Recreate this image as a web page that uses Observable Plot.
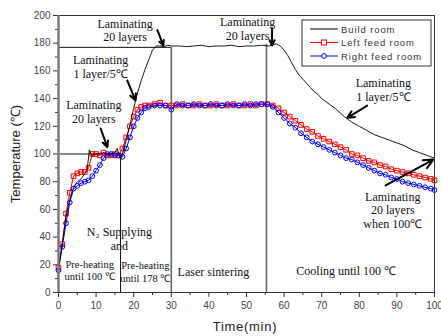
<!DOCTYPE html>
<html><head><meta charset="utf-8">
<script src="https://cdn.jsdelivr.net/npm/d3@7"></script>
<script src="https://cdn.jsdelivr.net/npm/@observablehq/plot@0.6"></script>
<style>body{margin:0;background:#fff}#chart{width:441px;height:336px}</style>
</head><body><div id="chart"></div>
<script>
// ---- data ----
const tBuild = [0,1,2,3,4,5,6,7,7.6,8.2,8.8,10,11,12,13,14,15,15.6,16.5,17,18,19,20,21,22,23,24,25,26,27,28,29,30,32,34,36,38,40,42,44,46,48,50,52,54,56,57,58,59,60,61,62,63,64,65,66,67,68,69,70,72,74,76,78,80,82,84,86,88,90,92,94,96,98,100];
const buildRoom = [18,35,55,67,76,80,82,86,88,103,99,100,100,101,100,100,101,104,96,100,110,121,133,144,153,161,168,175,178,178,177.5,178.5,178,178,177.5,178,178.5,177.5,178,178,178.5,177.5,178,178,178.5,178,179,179.5,178,175,171,166,161,157,154,151,148,145,143,140,136,132,127,123,120,117,114,112,110,108,106,103,101,99,97];
const tFeed = [0,1,2,3,4,5,6,7,8,9,10,11,12,13,14,15,16,17,18,19,20,21,22,23,24,25.5,27,28.5,30,31.5,33,34.5,36,37.5,39,40.5,42,43.5,45,46.5,48,49.5,51,52.5,54,55.5,57,58.5,60,61.5,63,64.5,66,67.5,69,70.5,72,73.5,75,76.5,78,79.5,81,82.5,84,85.5,87,88.5,90,91.5,93,94.5,96,97.5,99,100];
const leftFeed = [18,35,57,72,84,86,87,87,90,100,100,99,101,99,99,100,99,104,112,120,127,132,134,135,
  135,136,137,135,135,135,136,135,135,136,135,135,136,135,135,136,135,135,136,135,136,136,
  135,133,130,127,124,121,118,116,113,111,109,107,105,103,100,99,97,95,94,92,91,89,88,87,86,85,84,83,82,81];
const rightFeed = [16,33,50,65,75,77,79,80,81,84,88,92,97,100,100,99,99,98,104,112,120,126,130,133,
  134,135,135,135,132,136,135,135,136,135,135,136,135,135,136,135,135,136,135,136,136,136,
  134,130,126,122,119,115,112,109,107,105,103,101,99,97,96,94,92,90,88,86,85,83,82,80,79,78,77,76,75,74];
const xTicks = [0,10,20,30,40,50,60,70,80,90,100];
const xMinor = [5,15,25,35,45,55,65,75,85,95];
const yTicks = [0,20,40,60,80,100,120,140,160,180,200];
const yMinor = [10,30,50,70,90,110,130,150,170,190];
const seriesNames = ["Build room","Left feed room","Right feed room"];

// reference lines (data units)
const hRefs = [{y:100, x1:0, x2:16.5},{y:177, x1:0, x2:30}];
const vRefThin = [{x:16.5, y2:97}];
const vRefGrey = [{x:30, y2:177},{x:55.3, y2:179}];

// annotations (data units)
const notes = [
  {x:17.7, y:189.5, text:"Laminating\n20 layers"},
  {x:50.3, y:190.5, text:"Laminating\n20 layers"},
  {x:11.2, y:163, text:"Laminating\n1 layer/5℃"},
  {x:9.4, y:130.5, text:"Laminating\n20 layers"},
  {x:86.4, y:146.5, text:"Laminating\n1 layer/5℃"},
  {x:88.9, y:59.5, text:"Laminating\n20 layers\nwhen 100℃"},
  {x:16.2, y:39, text:"N₂ Supplying\nand"},
  {x:41.2, y:15.2, text:"Laser sintering"},
  {x:76.5, y:15.9, text:"Cooling until 100 ℃"}
];
const smallNotes = [
  {x:8.3, y:16.4, text:"Pre-heating\nuntil 100 ℃"},
  {x:23.1, y:15.2, text:"Pre-heating\nuntil 178 ℃"}
];
const arrows = [
  {x1:26.3, y1:189.5, x2:27.9, y2:178.3},
  {x1:56.8, y1:191, x2:56.8, y2:178.3},
  {x1:18.3, y1:153, x2:20.5, y2:138.6},
  {x1:11.2, y1:118.4, x2:13, y2:104.9},
  {x1:82.1, y1:135, x2:76.8, y2:126.1},
  {x1:87, y1:77.3, x2:99.7, y2:96}
];

const build = tBuild.map((t,i)=>({t, v:buildRoom[i]}));
const left = tFeed.map((t,i)=>({t, v:leftFeed[i]}));
const right = tFeed.map((t,i)=>({t, v:rightFeed[i]}));

const plot = Plot.plot({
  width:441, height:336,
  marginLeft:58, marginRight:7, marginTop:15, marginBottom:44,
  style:{fontFamily:"'Liberation Sans', Arial, sans-serif", fontSize:"10px", background:"#fff", color:"#333"},
  x:{domain:[0,100]},
  y:{domain:[0,200]},
  marks:[
    Plot.axisY({ticks:yTicks, tickSize:5, tickPadding:3, label:null, fontSize:10, fill:"#444", stroke:"#333"}),
    Plot.axisY({ticks:yMinor, tickSize:3, text:null, label:null, stroke:"#333"}),
    Plot.axisX({ticks:xTicks, tickSize:5, tickPadding:4, label:null, fontSize:10, fill:"#444", stroke:"#333"}),
    Plot.axisX({ticks:xMinor, tickSize:3, text:null, label:null, stroke:"#333"}),
    Plot.ruleY(hRefs, {y:"y", x1:"x1", x2:"x2", stroke:"#111", strokeWidth:1}),
    Plot.ruleX(vRefThin, {x:"x", y1:0, y2:"y2", stroke:"#111", strokeWidth:1}),
    Plot.ruleX(vRefGrey, {x:"x", y1:0, y2:"y2", stroke:"#666", strokeWidth:1.6}),
    Plot.line(left, {x:"t", y:"v", stroke:"#f00", strokeWidth:1}),
    Plot.dot(left, {x:"t", y:"v", symbol:"square", r:2.6, stroke:"#f00", strokeWidth:1, fill:"none"}),
    Plot.line(right, {x:"t", y:"v", stroke:"#00f", strokeWidth:1}),
    Plot.dot(right, {x:"t", y:"v", symbol:"circle", r:2.4, stroke:"#00f", strokeWidth:1, fill:"none"}),
    Plot.line(build, {x:"t", y:"v", stroke:"#000", strokeWidth:0.9}),
    Plot.arrow(arrows, {x1:"x1", y1:"y1", x2:"x2", y2:"y2", stroke:"#000", strokeWidth:2, headLength:8, headAngle:50}),
    Plot.text(notes, {x:"x", y:"y", text:"text", fontFamily:"'Liberation Serif', 'Times New Roman', serif", fontSize:12, lineHeight:1.12, fill:"#111"}),
    Plot.text(smallNotes, {x:"x", y:"y", text:"text", fontFamily:"'Liberation Serif', 'Times New Roman', serif", fontSize:10.5, lineHeight:1.2, fill:"#111"}),
    Plot.frame({stroke:"#333", strokeWidth:1}),
    Plot.ruleX([0], {stroke:"#777", strokeWidth:2.4})
  ]
});

const svg = d3.select(plot);
// axis titles
svg.append("text").attr("transform","translate(17,154) rotate(-90)")
  .attr("text-anchor","middle").attr("dominant-baseline","middle")
  .attr("font-family","'Liberation Sans', Arial, sans-serif").attr("font-size",13).attr("fill","#222")
  .text("Temperature (℃)");
svg.append("text").attr("x",245).attr("y",331)
  .attr("text-anchor","middle")
  .attr("font-family","'Liberation Sans', Arial, sans-serif").attr("font-size",13).attr("letter-spacing","0.7px").attr("fill","#222")
  .text("Time(min)");
// legend
const lg = svg.append("g");
lg.append("rect").attr("x",302).attr("y",20).attr("width",129).attr("height",46)
  .attr("fill","#fff").attr("stroke","#333").attr("stroke-width",1);
const colors = ["#000","#f00","#00f"];
seriesNames.forEach((name,i)=>{
  const y = 29 + i*13.5;
  lg.append("line").attr("x1",310).attr("x2",338).attr("y1",y).attr("y2",y).attr("stroke",colors[i]).attr("stroke-width",1);
  if (i===1) lg.append("rect").attr("x",321.5).attr("y",y-2.5).attr("width",5).attr("height",5).attr("fill","#fff").attr("stroke",colors[i]);
  if (i===2) lg.append("circle").attr("cx",324).attr("cy",y).attr("r",2.4).attr("fill","#fff").attr("stroke",colors[i]);
  lg.append("text").attr("x",341).attr("y",y+3.5).attr("text-anchor","start")
    .attr("font-family","'Liberation Sans', Arial, sans-serif").attr("font-size",9.5).attr("letter-spacing","0.9px").attr("fill","#333")
    .text(name);
});
document.getElementById("chart").appendChild(plot);
</script></body></html>
